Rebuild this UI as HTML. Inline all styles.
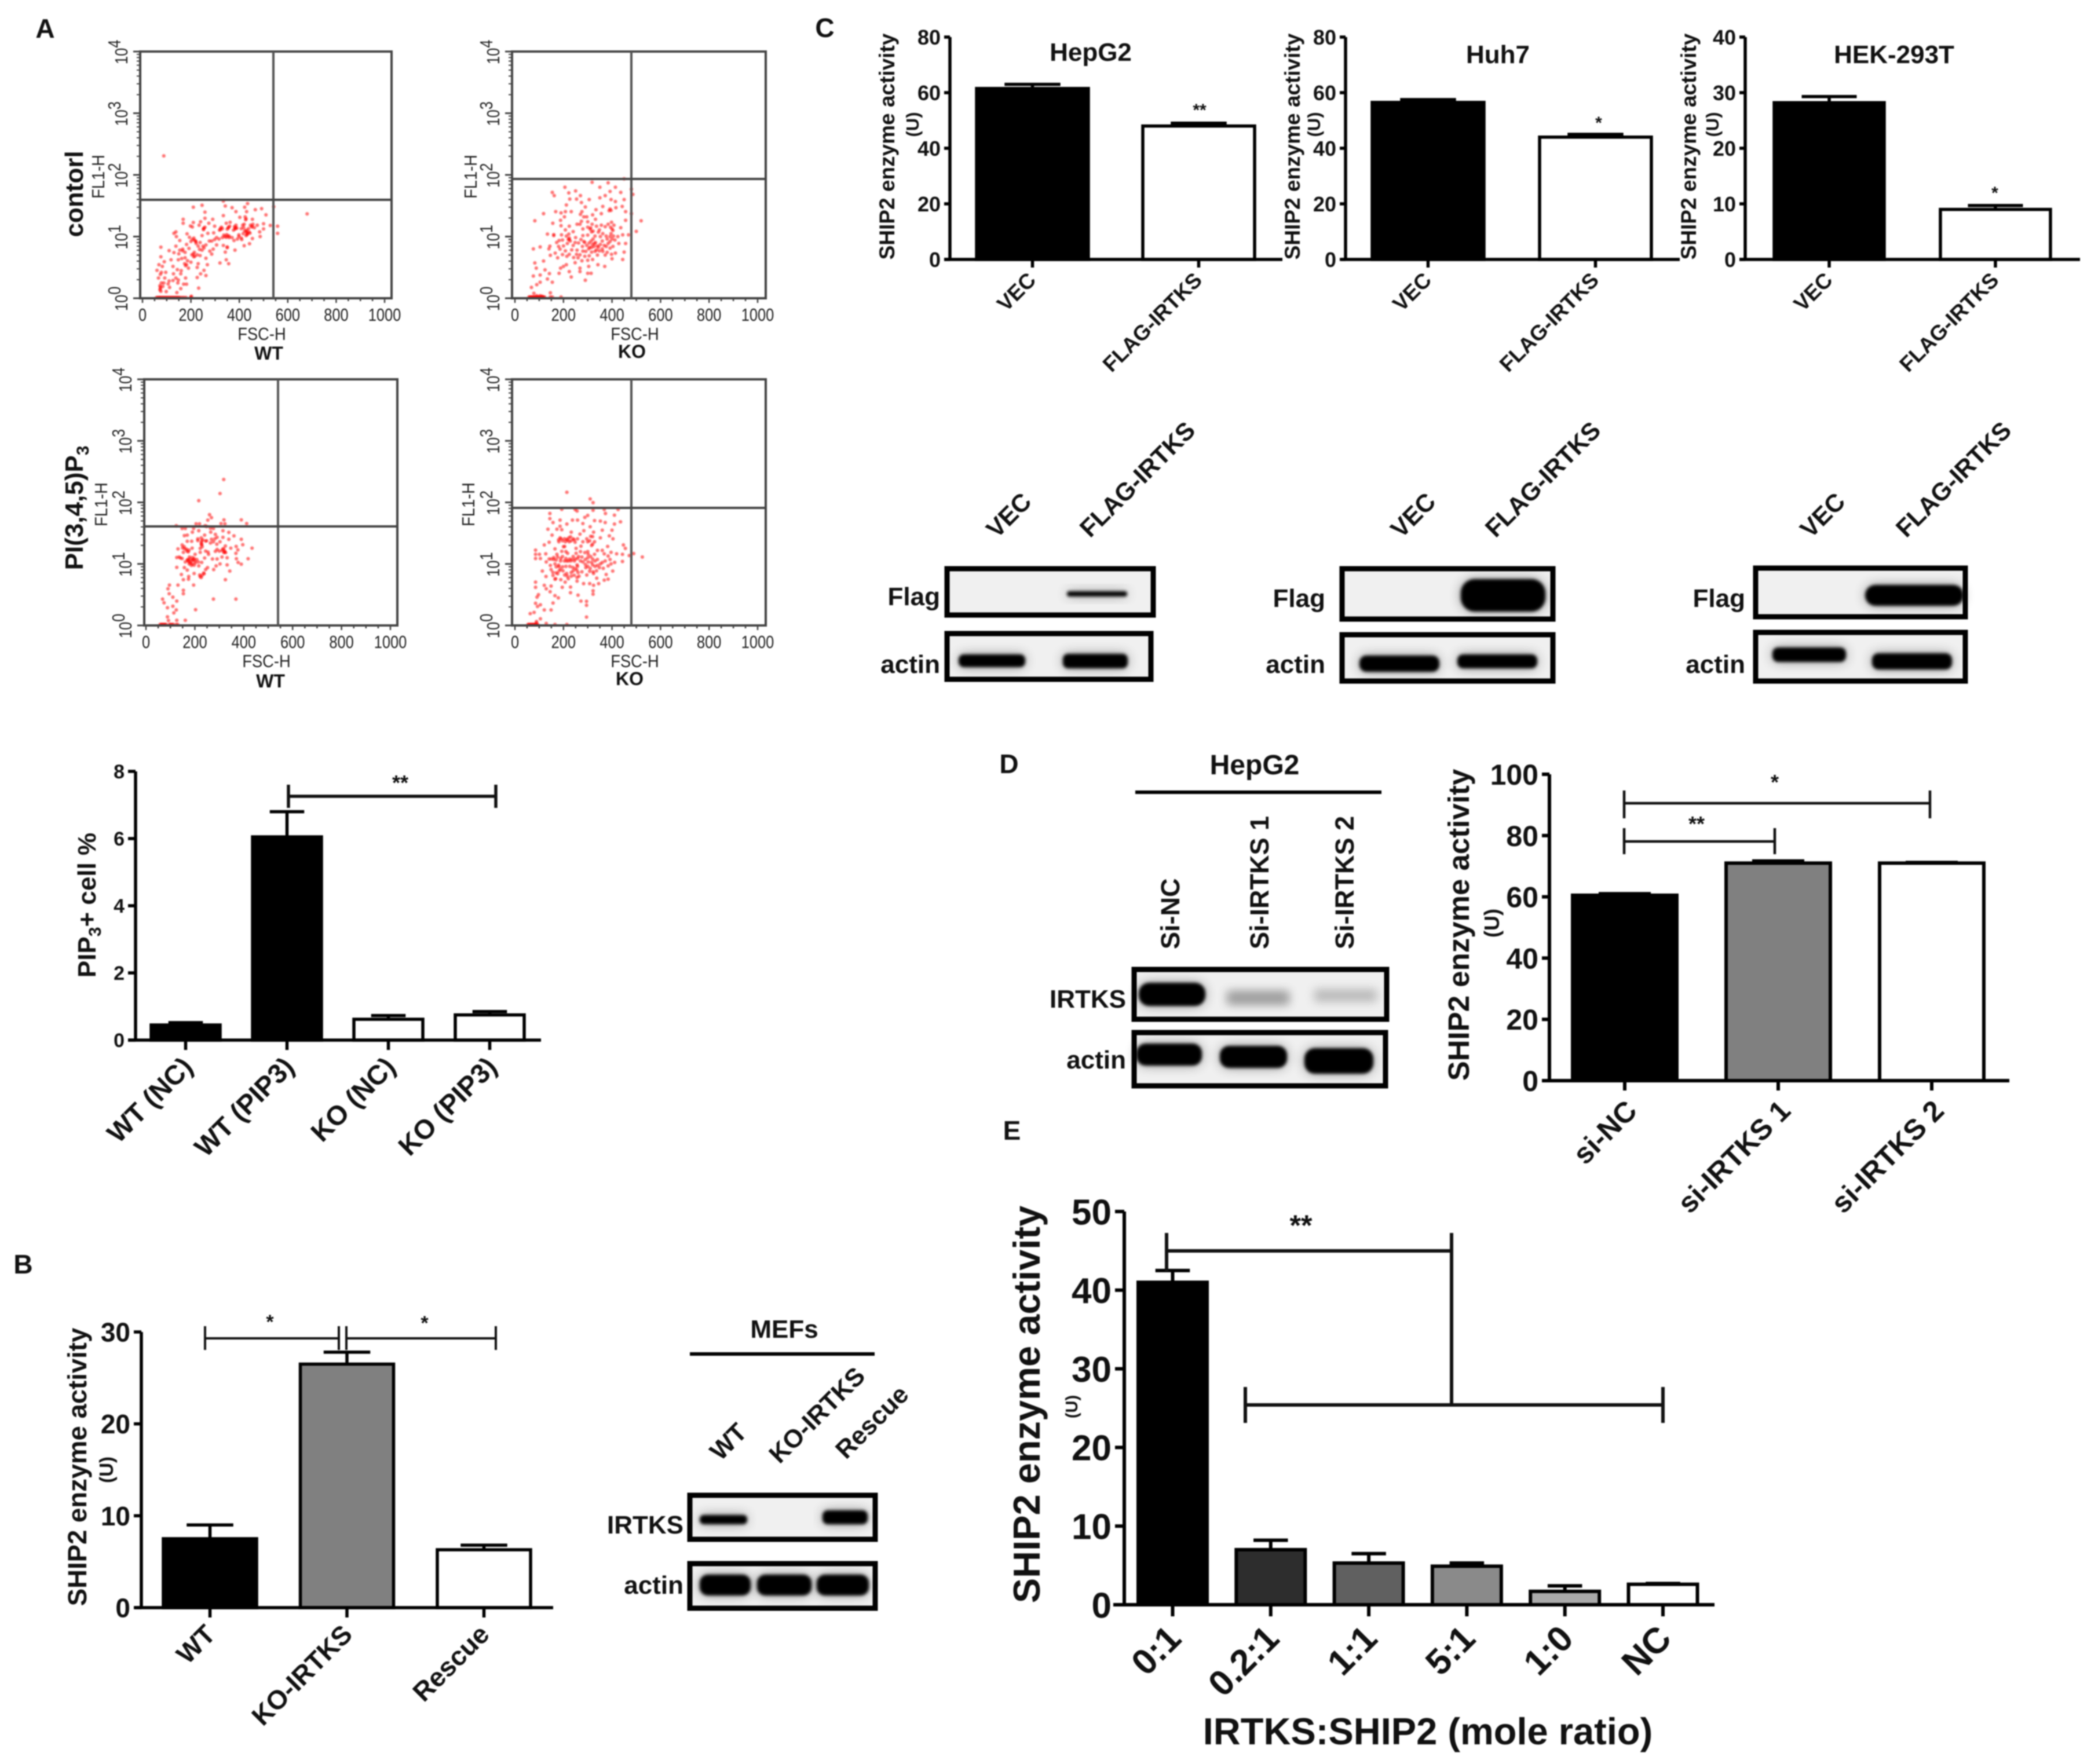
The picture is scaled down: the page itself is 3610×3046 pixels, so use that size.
<!DOCTYPE html>
<html lang="en">
<head>
<meta charset="utf-8">
<title>IRTKS and SHIP2 figure</title>
<style>
html,body{margin:0;padding:0;background:#fff;width:3610px;height:3046px;overflow:hidden}
svg{display:block;filter:blur(1px)}
text{font-family:"Liberation Sans",sans-serif;fill:#111}
.b{font-weight:bold}
.blot{fill:#f0f0f0;stroke:#000;stroke-width:9}
.band{fill:#000;filter:url(#soft)}
.halo{fill:#777;opacity:.45;filter:url(#halo)}
.br{fill:none;stroke:#111}
</style>
</head>
<body>
<svg id="figure" xmlns="http://www.w3.org/2000/svg" width="3610" height="3046" viewBox="0 0 3610 3046">
<defs>
<filter id="soft" x="-20%" y="-150%" width="140%" height="400%">
<feGaussianBlur in="SourceGraphic" stdDeviation="10" result="wide"/>
<feComponentTransfer in="wide" result="wideSoft"><feFuncA type="linear" slope="0.4"/></feComponentTransfer>
<feGaussianBlur in="SourceGraphic" stdDeviation="2.6" result="core"/>
<feMerge><feMergeNode in="wideSoft"/><feMergeNode in="core"/></feMerge>
</filter>
<filter id="halo" x="-30%" y="-150%" width="160%" height="400%"><feGaussianBlur stdDeviation="8"/></filter>
<filter id="dotblur" x="-5%" y="-5%" width="110%" height="110%"><feGaussianBlur stdDeviation="0.9"/></filter>
</defs>
<rect width="3610" height="3046" fill="#fff"/>

<!-- panel letters -->
<g class="b" font-size="46" text-anchor="middle">
<text x="78" y="65">A</text>
<text x="40" y="2199">B</text>
<text x="1424" y="64">C</text>
<text x="1742" y="1335">D</text>
<text x="1747" y="1968">E</text>
</g>

<!-- panel A flow plots -->
<g id="flow-wt-control"></g>
<g id="flow-ko-control"></g>
<g id="flow-wt-pip"></g>
<g id="flow-ko-pip"></g>
<text class="b" font-size="44" text-anchor="middle" transform="translate(143,335) rotate(-90)">contorl</text>
<text class="b" font-size="44" text-anchor="middle" transform="translate(143,877) rotate(-90)">PI(3,4,5)P<tspan font-size="30" dy="10">3</tspan></text>

<!-- bar charts -->
<g id="chart-pip"></g>
<g id="chart-b"></g>
<g id="chart-c1"></g>
<g id="chart-c2"></g>
<g id="chart-c3"></g>
<g id="chart-d"></g>
<g id="chart-e"></g>

<!-- axis titles -->
<text class="b" font-size="44" text-anchor="middle" transform="translate(165,1563) rotate(-90)">PIP<tspan font-size="30" dy="9">3</tspan><tspan dy="-9">+ cell %</tspan></text>
<text class="b" font-size="45.5" text-anchor="middle" transform="translate(149,2533) rotate(-90)">SHIP2 enzyme activity</text>
<text class="b" font-size="33" text-anchor="middle" transform="translate(195,2538) rotate(-90)">(U)</text>
<text class="b" font-size="37" text-anchor="middle" transform="translate(1544,253) rotate(-90)">SHIP2 enzyme activity</text>
<text class="b" font-size="31" text-anchor="middle" transform="translate(1586,215) rotate(-90)">(U)</text>
<text class="b" font-size="37" text-anchor="middle" transform="translate(2244,253) rotate(-90)">SHIP2 enzyme activity</text>
<text class="b" font-size="31" text-anchor="middle" transform="translate(2279,215) rotate(-90)">(U)</text>
<text class="b" font-size="37" text-anchor="middle" transform="translate(2928,253) rotate(-90)">SHIP2 enzyme activity</text>
<text class="b" font-size="31" text-anchor="middle" transform="translate(2967,215) rotate(-90)">(U)</text>
<text class="b" font-size="51" text-anchor="middle" transform="translate(2536,1597) rotate(-90)">SHIP2 enzyme activity</text>
<text class="b" font-size="36" text-anchor="middle" transform="translate(2588,1594) rotate(-90)">(U)</text>
<text class="b" font-size="65" text-anchor="middle" transform="translate(1795,2425) rotate(-90)">SHIP2 enzyme activity</text>
<text class="b" font-size="29" text-anchor="middle" transform="translate(1860,2429) rotate(-90)">(U)</text>
<text class="b" font-size="65" text-anchor="middle" x="2465" y="3012">IRTKS:SHIP2 (mole ratio)</text>

<!-- chart titles -->
<g class="b" text-anchor="middle" font-size="44">
<text x="1883" y="105">HepG2</text>
<text x="2586" y="109">Huh7</text>
<text x="3270" y="109">HEK-293T</text>
</g>

<!-- significance annotations -->
<g class="b" text-anchor="middle">
<text x="691" y="1364" font-size="36">**</text>
<text x="466" y="2294" font-size="34">*</text>
<text x="733" y="2296" font-size="34">*</text>
<text x="2071" y="200" font-size="30">**</text>
<text x="2760" y="222" font-size="30">*</text>
<text x="3444" y="343" font-size="30">*</text>
<text x="3064" y="1363" font-size="36">*</text>
<text x="2929" y="1435" font-size="36">**</text>
<text x="2246" y="2133" font-size="50">**</text>
</g>
<path class="br" stroke-width="5.5" d="M498 1355V1395M498 1375H856M856 1355V1395"/>
<path class="br" stroke-width="4" d="M354 2290V2331M354 2311H585M585 2290V2331"/>
<path class="br" stroke-width="4" d="M598 2290V2331M598 2311H856M856 2290V2331"/>
<path class="br" stroke-width="4.5" d="M2804 1365V1413M2804 1387H3332M3332 1365V1413"/>
<path class="br" stroke-width="4.5" d="M2804 1430V1475M2804 1453H3064M3064 1430V1475"/>
<path class="br" stroke-width="6" d="M2014 2129V2195M2014 2160H2506M2506 2129V2426"/>
<path class="br" stroke-width="6" d="M2150 2395V2457M2150 2426H2871M2871 2395V2457"/>

<!-- panel B blot -->
<g>
<text class="b" font-size="44" text-anchor="middle" x="1354" y="2310">MEFs</text>
<rect x="1191" y="2335" width="319" height="6" fill="#000"/>
<g class="b" font-size="44" text-anchor="middle">
<text transform="translate(1268,2500) rotate(-45)">WT</text>
<text transform="translate(1421,2454) rotate(-45)">KO-IRTKS</text>
<text transform="translate(1516,2466) rotate(-45)">Rescue</text>
</g>
<g class="b" font-size="44" text-anchor="end">
<text x="1180" y="2648">IRTKS</text>
<text x="1180" y="2752">actin</text>
</g>
<rect class="blot" x="1191" y="2582" width="320" height="76"/>
<rect class="blot" x="1191" y="2700" width="320" height="77"/>
<rect class="band" x="1208" y="2616" width="82" height="16" rx="7"/>
<rect class="band" x="1420" y="2608" width="78" height="24" rx="9"/>
<rect class="band" x="1208" y="2719" width="88" height="36" rx="14"/>
<rect class="band" x="1307" y="2719" width="94" height="36" rx="14"/>
<rect class="band" x="1410" y="2719" width="90" height="36" rx="14"/>
</g>

<!-- panel C blots -->
<g>
<g class="b" text-anchor="middle" font-size="43">
<text transform="translate(1752,900) rotate(-45)">VEC</text>
<text transform="translate(1974,838) rotate(-45)">FLAG-IRTKS</text>
</g>
<g class="b" text-anchor="end" font-size="44">
<text x="1623" y="1045">Flag</text>
<text x="1623" y="1162">actin</text>
</g>
<rect class="blot" x="1635" y="982" width="356" height="80"/>
<rect class="blot" x="1635" y="1094" width="352" height="79"/>
<rect class="band" x="1842" y="1021" width="104" height="9" rx="4"/>
<rect class="band" x="1655" y="1130" width="115" height="22" rx="9"/>
<rect class="band" x="1835" y="1129" width="112" height="25" rx="9"/>
</g>
<g>
<g class="b" text-anchor="middle" font-size="43">
<text transform="translate(2450,900) rotate(-45)">VEC</text>
<text transform="translate(2674,838) rotate(-45)">FLAG-IRTKS</text>
</g>
<g class="b" text-anchor="end" font-size="44">
<text x="2288" y="1048">Flag</text>
<text x="2288" y="1162">actin</text>
</g>
<rect class="blot" x="2317" y="982" width="364" height="87"/>
<rect class="blot" x="2317" y="1096" width="364" height="80"/>
<rect class="band" x="2522" y="1000" width="146" height="56" rx="24"/>
<rect class="band" x="2347" y="1132" width="138" height="28" rx="12"/>
<rect class="band" x="2516" y="1130" width="138" height="24" rx="10"/>
</g>
<g>
<g class="b" text-anchor="middle" font-size="43">
<text transform="translate(3157,900) rotate(-45)">VEC</text>
<text transform="translate(3383,838) rotate(-45)">FLAG-IRTKS</text>
</g>
<g class="b" text-anchor="end" font-size="44">
<text x="3013" y="1048">Flag</text>
<text x="3013" y="1162">actin</text>
</g>
<rect class="blot" x="3031" y="981" width="362" height="84"/>
<rect class="blot" x="3031" y="1092" width="362" height="84"/>
<rect class="band" x="3220" y="1010" width="170" height="36" rx="18"/>
<rect class="band" x="3060" y="1118" width="127" height="25" rx="10"/>
<rect class="band" x="3232" y="1128" width="138" height="28" rx="11"/>
</g>

<!-- panel D blot -->
<g>
<text class="b" font-size="48" text-anchor="middle" x="2166" y="1337">HepG2</text>
<rect x="1960" y="1365" width="425" height="6" fill="#000"/>
<g class="b" font-size="45">
<text transform="translate(2036,1639) rotate(-90)">Si-NC</text>
<text transform="translate(2190,1639) rotate(-90)">Si-IRTKS 1</text>
<text transform="translate(2337,1639) rotate(-90)">Si-IRTKS 2</text>
</g>
<g class="b" font-size="44" text-anchor="end">
<text x="1944" y="1740">IRTKS</text>
<text x="1944" y="1845">actin</text>
</g>
<rect class="blot" x="1958" y="1674" width="436" height="86"/>
<rect class="blot" x="1958" y="1783" width="434" height="92"/>
<rect class="band" x="1966" y="1697" width="115" height="40" rx="18"/>
<rect class="halo" x="2119" y="1712" width="106" height="22"/><rect class="halo" x="2119" y="1712" width="106" height="22"/><rect class="halo" x="2269" y="1708" width="108" height="22"/>
<rect class="band" x="1962" y="1802" width="113" height="38" rx="16"/>
<rect class="band" x="2106" y="1806" width="116" height="38" rx="16"/>
<rect class="band" x="2252" y="1810" width="119" height="44" rx="18"/>
</g>

<script>
// ---- chart data ----
const pipCategories = ['WT (NC)', 'WT (PIP3)', 'KO (NC)', 'KO (PIP3)'];
const pipValues = [0.45, 6.05, 0.62, 0.75];
const pipErrorTops = [0.52, 6.8, 0.73, 0.85];
const pipTicks = [0, 2, 4, 6, 8];

const mefCategories = ['WT', 'KO-IRTKS', 'Rescue'];
const mefValues = [7.5, 26.5, 6.3];
const mefErrorTops = [9.0, 27.8, 6.8];
const mefTicks = [0, 10, 20, 30];

const overexprCategories = ['VEC', 'FLAG-IRTKS'];
const hepg2Values = [61.5, 48];
const hepg2ErrorTops = [63, 49];
const huh7Values = [56.5, 44];
const huh7ErrorTops = [57.5, 45];
const hekValues = [28.2, 9];
const hekErrorTops = [29.3, 9.7];
const cTicks80 = [0, 20, 40, 60, 80];
const cTicks40 = [0, 10, 20, 30, 40];

const sirnaCategories = ['si-NC', 'si-IRTKS 1', 'si-IRTKS 2'];
const sirnaValues = [60.5, 71, 71];
const sirnaErrorTops = [61, 71.7, 71.2];
const sirnaTicks = [0, 20, 40, 60, 80, 100];

const ratioCategories = ['0:1', '0.2:1', '1:1', '5:1', '1:0', 'NC'];
const ratioValues = [41, 7, 5.3, 4.9, 1.7, 2.6];
const ratioErrorTops = [42.5, 8.2, 6.5, 5.3, 2.4, 2.7];
const ratioTicks = [0, 10, 20, 30, 40, 50];

const flowXTicks = [0, 200, 400, 600, 800, 1000];
const flowYDecades = [0, 1, 2, 3, 4];

// flow events: [FSC-H, FL1-H channel (0-1000 across 4 decades)]
const wtControlEvents = [[58,3],[62,3],[66,3],[70,3],[72,3],[76,3],[80,3],[84,3],[88,3],[92,3],[96,3],[100,3],[104,3],[108,3],[112,3],[116,3],[120,3],[124,3],[128,3],[132,3],[136,3],[140,3],[144,3],[148,3],[152,3],[158,3],[165,3],[172,3],[180,3],[200,3],[200,5],[202,8],
[74,39],[74,45],[72,51],[78,62],[72,34],[76,28],[66,82],[74,97],[60,113],[78,105],[82,129],[68,136],[90,148],[76,168],[76,207],[98,27],[106,58],[110,70],[96,105],[126,129],[118,156],[128,99],[138,82],[158,99],[146,62],[158,39],[142,23],[178,82],[170,57],[182,57],[190,122],[174,140],[182,136],[162,161],[148,156],[176,164],[130,185],[110,193],[138,211],[154,195],[166,199],[182,218],[154,234],[130,263],[138,269],[140,250],[168,320],[168,304],
[210,369],[246,377],[258,349],[258,324],[290,320],[274,304],[234,296],[198,293],[210,307],[252,282],[298,292],[322,278],[294,265],[270,263],[246,254],[206,289],[184,261],[194,247],[206,238],[220,229],[230,211],[246,195],[250,211],[210,179],[216,170],[238,173],[262,162],[226,125],[230,140],[268,136],[254,113],[240,99],[226,84],[262,92],[232,41],[278,191],[292,199],[286,179],[276,232],[298,238],[306,216],[320,143],[346,156],[356,140],[342,187],[350,208],[334,214],[330,246],[346,247],[358,246],[346,304],[362,308],[354,285],[382,281],[386,296],[334,335],[370,367],[342,374],[334,394],[434,384],[422,369],[430,351],[386,351],[402,328],[466,359],[492,363],[510,338],[454,320],[426,318],[414,296],[452,289],[474,296],[500,302],[500,281],[528,295],[558,292],[558,263],[484,269],[486,250],[434,261],[422,273],[398,257],[378,234],[410,238],[454,242],[442,221],[420,213],[382,195],[542,371],[680,342],[88,577],
[254,284],[322,283],[356,288],[384,283],[384,287],[428,270],[432,258],[440,268],[424,330],[428,322],[340,250],[352,252],[408,244],[220,232],[214,236],[204,176],[212,168],[236,198],[350,205],[240,310],[330,282],[420,300],[452,292],[432,266],
[252,278],[258,288],[318,276],[326,288],[350,280],[360,292],[376,276],[380,290],[390,284],[408,282],[418,286],[430,276],[438,282],[446,296],[456,300],[462,286],[444,264],[428,254],[416,262],[336,256],[348,258],[358,252],[370,246],[392,240],[398,250],[316,240],[306,246],[286,232],[262,216],[254,204],[238,226],[222,222],[212,244],[200,230],[192,202],[166,192],[176,186],[226,176],[214,186],[150,180],[144,116],[160,112],[178,132],[186,152],[200,146],[148,74],[126,72],[112,44],[88,62],[92,82],[84,48]];

const koControlEvents = [[58,5],[61,5],[64,5],[67,5],[70,5],[73,5],[76,5],[79,5],[82,5],[85,5],[88,5],[91,5],[94,5],[97,5],[100,5],[103,5],[106,5],[109,5],[112,5],[115,5],[118,5],[122,5],[146,5],[154,5],[190,5],[78,20],[146,22],[90,10],[104,10],[112,8],
[68,44],[90,55],[104,65],[76,90],[104,94],[134,78],[154,65],[142,100],[124,115],[88,122],[82,143],[118,151],[76,200],[104,208],[82,314],[118,343],[168,351],[154,429],[162,416],[206,450],[222,427],[226,402],[250,435],[254,402],[270,416],[212,378],[274,388],[290,370],[306,400],[318,470],[350,450],[384,468],[414,450],[436,429],[392,433],[372,416],[350,407],[396,400],[450,400],[450,484],[414,392],[480,442],[486,421],[480,343],
[520,314],[500,271],[468,257],[444,257],[456,222],[450,187],[444,157],[416,367],[442,372],[456,351],[456,316],[436,286],[388,355],[362,372],[334,359],[356,343],[320,338],[332,320],[276,351],[232,351],[208,351],[190,346],[188,316],[156,304],[190,294],[224,292],[208,277],[134,260],[160,254],[192,257],[220,238],[250,246],[280,281],[312,285],[316,269],[348,277],[398,308],[400,281],[280,254],[284,230],[328,222],[352,250],[392,250],[424,250],[428,222],[392,230],[392,203],[368,214],[344,207],[316,187],[280,191],[256,195],[240,214],[216,222],[182,234],[144,211],[140,200],[166,183],[186,199],[196,177],[214,170],[146,174],[176,164],[242,165],[260,164],[276,152],[300,154],[320,157],[340,175],[372,175],[400,160],[414,183],[248,144],[212,136],[200,129],[188,122],[182,101],[224,108],[232,86],[268,122],[268,108],[304,129],[300,101],[314,101],[342,136],[370,129],[290,73],
[320,218],[296,214],[332,226],[288,226],[224,238],[310,280],[322,272],[392,362],[396,356],[340,212],[352,218],[304,200],[224,244],[228,232],[308,206],[326,210],[394,288],[404,275],[160,258],[380,240],[360,232],[268,300],[274,312],[256,300],[296,330],[284,330],[300,288],[204,330],
[306,224],[314,232],[322,240],[336,196],[348,192],[360,200],[376,210],[384,222],[404,210],[412,236],[406,252],[376,252],[362,262],[344,268],[330,252],[300,256],[272,238],[262,224],[248,226],[234,196],[224,178],[208,192],[200,212],[196,236],[172,226],[288,170],[306,172],[330,190],[316,206],[278,210],[292,190],[268,176],[254,178],[362,190],[380,186],[398,178],[400,240],[396,262],[408,296],[384,300],[372,290],[356,296],[336,292],[318,300],[300,310],[270,340],[240,270],[222,260],[212,252],[180,210]];

const wtPipEvents = [[318,593],[303,536],[216,507],[260,450],[268,438],[253,428],[319,429],[390,429],[412,414],[307,414],[323,413],[205,413],[219,413],[242,405],[248,402],[124,405],[148,394],[161,394],[195,394],[264,395],[276,394],
[190,379],[216,385],[265,379],[315,385],[339,378],[157,365],[169,367],[240,367],[284,370],[360,364],[291,358],[315,358],[339,350],[390,350],[212,352],[169,342],[187,342],[228,343],[244,343],[264,335],[303,340],[290,330],[396,328],[325,323],[227,328],[148,327],[131,311],[159,311],[189,314],[222,313],[291,309],[347,314],[369,321],[376,307],[434,314],[173,299],[222,297],[284,301],[319,296],[368,293],[153,297],[256,289],[201,289],[126,276],[141,274],[194,268],[169,266],[240,274],[272,270],[291,270],[311,278],[332,275],[370,271],[418,271],[377,256],[390,249],[332,246],[303,250],[287,242],[228,256],[216,242],[197,245],[177,250],[161,258],[126,236],[157,235],[169,225],[252,235],[244,227],[277,227],[343,221],[145,207],[175,199],[197,211],[220,205],[236,213],[226,195],[174,188],[153,186],[325,186],[131,164],[96,164],[195,164],[90,149],[95,129],[153,143],[153,129],[110,115],[126,99],[68,107],[74,92],[276,107],[368,107],[110,78],[88,72],[203,64],[124,63],[114,51],[88,35],[126,21],[161,21],[92,20],
[58,4],[61,4],[64,4],[67,4],[70,4],[73,4],[76,4],[79,4],[82,4],[96,4],[100,4],[104,4],[108,4],[112,4],[124,4],[130,4],[185,262],[197,272],[177,258],[189,250],[192,266],[180,270],[200,262],[172,262],[150,315],[168,302],[326,296],[322,302],[212,345],[228,330],[314,310],
[172,268],[182,254],[190,276],[202,254],[208,268],[214,258],[186,244],[178,278],[148,272],[136,278],[166,310],[176,306],[156,320],[230,320],[226,336],[244,302],[254,298],[248,344],[276,340],[282,352],[268,350],[232,348],[226,356],[312,304],[318,312],[322,298],[300,302],[238,210],[222,198],[230,204]];

const koPipEvents = [[214,541],[310,514],[322,499],[193,472],[248,471],[256,465],[322,468],[368,471],[425,471],[373,455],[144,455],[300,447],[410,448],[144,434],[186,428],[237,428],[258,428],[288,439],[328,426],[352,424],[372,418],[435,421],[157,418],[214,412],[280,414],[410,412],[310,401],[186,403],[136,391],[173,391],[193,389],[284,385],[400,387],[360,387],[324,379],[232,379],[153,367],[186,356],[229,360],[268,371],[320,361],[352,356],[389,364],[404,352],[181,340],[217,346],[244,348],[308,344],[141,338],[121,327],[205,321],[272,322],[316,325],[447,327],[455,313],[382,321],[85,306],[165,311],[193,301],[252,313],[340,305],[360,305],[85,289],[101,289],[127,291],[173,289],[217,293],[252,293],[302,289],[328,289],[368,291],[396,297],[419,291],[443,289],[489,292],[471,284],[525,278],[85,272],[105,272],[141,270],[189,272],[225,270],[248,270],[320,270],[384,282],[129,258],[165,250],[181,239],[213,262],[256,246],[280,258],[320,246],[352,250],[411,256],[443,260],[384,242],[113,221],[149,227],[213,211],[248,231],[292,235],[348,235],[403,221],[128,199],[157,203],[189,186],[165,188],[256,195],[296,205],[324,211],[376,207],[337,192],[368,184],[384,188],[85,176],[256,180],[207,176],[85,155],[121,163],[149,160],[129,149],[195,155],[229,156],[283,170],[308,170],[345,170],[324,163],[145,137],[229,133],[322,141],[322,127],[97,125],[165,121],[179,112],[260,123],[91,115],[272,99],[295,98],[295,82],[157,91],[85,90],[105,84],[93,77],[121,63],[149,63],[79,53],[63,48],[295,34],[105,27],[89,16],[129,8],[165,4],[214,4],
[54,4],[57,4],[60,4],[63,4],[66,4],[69,4],[72,4],[75,4],[78,4],[81,4],[84,4],[87,4],[90,4],[94,4],[88,10],[180,348],[190,352],[214,350],[222,356],[232,344],[240,352],[150,270],[160,268],[170,266],[210,272],[220,262],[235,268],[245,262],[258,272],[270,262],[180,245],[170,238],[188,228],[232,215],[240,222],[258,240],[300,275],[312,280],[330,262],[340,268],[300,240],[310,232],[322,218],[205,205],[216,200],[176,210],[168,190],[300,340],[320,330],[255,225],[260,215],[244,204],
[196,344],[204,352],[208,340],[224,340],[248,338],[258,352],[160,276],[176,278],[196,280],[204,262],[230,262],[240,280],[262,280],[276,278],[290,268],[290,248],[302,258],[316,256],[330,240],[340,244],[360,256],[372,262],[392,268],[396,250],[364,232],[336,222],[308,220],[276,218],[264,200],[232,200],[220,190],[198,222],[182,222],[170,214],[156,216],[146,244],[188,262],[196,238],[210,240],[226,240],[238,236],[270,300],[288,296],[300,300],[210,300],[200,320],[280,340],[296,352],[312,362],[328,340]];

// ---- drawing helpers ----
const NS = 'http://www.w3.org/2000/svg';
function el(parent, tag, attrs, txt) {
  const n = document.createElementNS(NS, tag);
  for (const k in attrs) n.setAttribute(k, attrs[k]);
  if (txt !== undefined) n.textContent = txt;
  parent.appendChild(n);
  return n;
}
function label(node, name) {
  
  
  return node;
}
function slug(s) { return String(s).toLowerCase().replace(/[^a-z0-9]+/g, '-'); }

function drawBars(id, categories, values, errorTops, ticks, colors, g) {
  const root = document.getElementById(id);
  const yScale = v => g.y0 - (v / g.yMax) * (g.y0 - g.yTop);
  const center = i => g.barLeft + g.barStep * i + g.barWidth / 2;
  // bars + error bars
  values.forEach((v, i) => {
    const cx = center(i);
    const err = label(el(root, 'path', {
      d: 'M' + cx + ' ' + yScale(v) + 'V' + yScale(errorTops[i]) + 'M' + (cx - g.barWidth * 0.25) + ' ' + yScale(errorTops[i]) + 'H' + (cx + g.barWidth * 0.25),
      stroke: '#000', 'stroke-width': g.sw, fill: 'none'
    }), 'error-bar-' + slug(categories[i]));
    const bar = label(el(root, 'rect', {
      x: g.barLeft + g.barStep * i, y: yScale(v), width: g.barWidth, height: g.y0 - yScale(v),
      fill: colors[i], stroke: '#000', 'stroke-width': g.sw
    }), 'bar-' + slug(categories[i]));
  });
  // axes
  label(el(root, 'path', { d: 'M' + g.axisX + ' ' + g.yTop + 'V' + g.y0, stroke: '#000', 'stroke-width': g.sw, fill: 'none' }), 'y-axis');
  label(el(root, 'path', { d: 'M' + g.xStart + ' ' + g.y0 + 'H' + g.xEnd, stroke: '#000', 'stroke-width': g.sw, fill: 'none' }), 'x-axis');
  // y ticks
  ticks.forEach(t => {
    const y = yScale(t);
    label(el(root, 'path', { d: 'M' + (g.axisX - g.tick) + ' ' + y + 'H' + g.axisX, stroke: '#000', 'stroke-width': g.sw, fill: 'none' }), 'y-tick-' + t);
    label(el(root, 'text', { x: g.axisX - g.tick - 6, y: y + g.yFont * 0.36, 'text-anchor': 'end', 'font-size': g.yFont, 'font-weight': 'bold' }, t), 'y-tick-label-' + t);
  });
  // x ticks
  categories.forEach((c, i) => {
    const cx = center(i);
    label(el(root, 'path', { d: 'M' + cx + ' ' + g.y0 + 'V' + (g.y0 + g.tick + 4), stroke: '#000', 'stroke-width': g.sw, fill: 'none' }), 'x-tick-' + slug(c));
    const px = cx + g.lx, py = g.y0 + g.ly;
    label(el(root, 'text', { 'text-anchor': 'end', 'font-size': g.xFont, 'font-weight': 'bold', transform: 'translate(' + px + ',' + py + ') rotate(-45)' }, c), 'x-tick-label-' + slug(c));
  });
}

function drawFlow(id, events, g, groupName) {
  const root = document.getElementById(id);
  const xScale = f => g.x0 + f * g.xs;
  const decade = (g.bottom - g.top) / 4;
  const yLog = d => g.bottom - d * decade;
  const yCh = c => g.bottom - c / 1000 * (g.bottom - g.top);
  const stroke = '#444';
  const dots = label(el(root, 'g', { filter: 'url(#dotblur)' }), 'event-dots');
  events.forEach(p => {
    const dot = label(el(dots, 'circle', { cx: xScale(p[0]), cy: yCh(p[1]), r: 3.1, fill: '#ff0000', 'fill-opacity': 0.55 }), 'event-dot');
  });
  label(el(root, 'rect', { x: g.left, y: g.top, width: g.right - g.left, height: g.bottom - g.top, fill: 'none', stroke: stroke, 'stroke-width': 4 }), 'plot-frame');
  label(el(root, 'path', { d: 'M' + g.vline + ' ' + g.top + 'V' + g.bottom, stroke: '#555', 'stroke-width': 4 }), 'quadrant-vertical');
  label(el(root, 'path', { d: 'M' + g.left + ' ' + g.hline + 'H' + g.right, stroke: '#444', 'stroke-width': 4 }), 'quadrant-horizontal');
  // y axis: log ticks
  flowYDecades.forEach(k => {
    const y = yLog(k);
    label(el(root, 'path', { d: 'M' + (g.left - 12) + ' ' + y + 'H' + g.left, stroke: stroke, 'stroke-width': 3 }), 'y-major-tick');
    if (k < 4) for (let m = 2; m < 10; m++) {
      const my = yLog(k + Math.log10(m));
      label(el(root, 'path', { d: 'M' + (g.left - 6) + ' ' + my + 'H' + g.left, stroke: stroke, 'stroke-width': 2 }), 'y-minor-tick');
    }
    const t = label(el(root, 'text', { 'font-size': 31, transform: 'translate(' + (g.left - 22) + ',' + (y + 22) + ') rotate(-90) scale(.82,1)' }), 'y-tick-label-' + k);
    t.style.fill = '#222';
    t.textContent = '10';
    const sup = el(t, 'tspan', { dy: -12 }, k);
  });
  // x axis
  for (let f = 0; f <= 1000; f += 50) {
    const x = xScale(f);
    label(el(root, 'path', { d: 'M' + x + ' ' + g.bottom + 'V' + (g.bottom + (f % 200 === 0 ? 8 : 5)), stroke: stroke, 'stroke-width': 2.5 }), 'x-tick');
  }
  flowXTicks.forEach(f => {
    const t = label(el(root, 'text', { 'font-size': 31, 'text-anchor': 'middle', transform: 'translate(' + xScale(f) + ',' + (g.bottom + 39) + ') scale(.82,1)' }, f), 'x-tick-label-' + f);
    t.style.fill = '#222';
  });
  const xt = label(el(root, 'text', { 'font-size': 31, 'text-anchor': 'middle', transform: 'translate(' + g.fscX + ',' + (g.bottom + 72) + ') scale(.88,1)' }, 'FSC-H'), 'x-axis-title');
  xt.style.fill = '#222';
  const yt = label(el(root, 'text', { 'font-size': 31, 'text-anchor': 'middle', transform: 'translate(' + g.flX + ',' + g.flY + ') rotate(-90) scale(.88,1)' }, 'FL1-H'), 'y-axis-title');
  yt.style.fill = '#222';
  label(el(root, 'text', { 'font-size': 32, 'font-weight': 'bold', 'text-anchor': 'middle', x: g.nameX, y: g.nameY }, groupName), 'genotype-label');
}

drawFlow('flow-wt-control', wtControlEvents, { left: 242, right: 676, top: 89, bottom: 515, x0: 246, xs: .418, vline: 472, hline: 345, fscX: 452, flX: 180, flY: 305, nameX: 464, nameY: 621 }, 'WT');
drawFlow('flow-ko-control', koControlEvents, { left: 884, right: 1322, top: 89, bottom: 515, x0: 889, xs: .419, vline: 1090, hline: 309, fscX: 1096, flX: 823, flY: 305, nameX: 1091, nameY: 618 }, 'KO');
drawFlow('flow-wt-pip', wtPipEvents, { left: 249, right: 686, top: 655, bottom: 1080, x0: 252, xs: .422, vline: 480, hline: 909, fscX: 460, flX: 185, flY: 871, nameX: 467, nameY: 1187 }, 'WT');
drawFlow('flow-ko-pip', koPipEvents, { left: 884, right: 1322, top: 655, bottom: 1080, x0: 889, xs: .419, vline: 1090, hline: 877, fscX: 1096, flX: 819, flY: 871, nameX: 1087, nameY: 1183 }, 'KO');

drawBars('chart-pip', pipCategories, pipValues, pipErrorTops, pipTicks, ['#000', '#000', '#fff', '#fff'],
  { axisX: 234, y0: 1796, yTop: 1332, yMax: 8, xStart: 221, xEnd: 934, barLeft: 261, barWidth: 119, barStep: 175, sw: 5.5, tick: 13, yFont: 34, xFont: 47, lx: 15, ly: 49 });
drawBars('chart-b', mefCategories, mefValues, mefErrorTops, mefTicks, ['#000', '#808080', '#fff'],
  { axisX: 244, y0: 2776, yTop: 2300, yMax: 30, xStart: 233, xEnd: 955, barLeft: 282, barWidth: 161, barStep: 236.5, sw: 5.5, tick: 13, yFont: 46, xFont: 46, lx: 12, ly: 49 });
drawBars('chart-c1', overexprCategories, hepg2Values, hepg2ErrorTops, cTicks80, ['#000', '#fff'],
  { axisX: 1640, y0: 448, yTop: 64, yMax: 80, xStart: 1630, xEnd: 2214, barLeft: 1686, barWidth: 193, barStep: 287, sw: 5.5, tick: 10, yFont: 36, xFont: 37, lx: 8, ly: 38 });
drawBars('chart-c2', overexprCategories, huh7Values, huh7ErrorTops, cTicks80, ['#000', '#fff'],
  { axisX: 2323, y0: 448, yTop: 64, yMax: 80, xStart: 2316, xEnd: 2900, barLeft: 2369, barWidth: 193, barStep: 289, sw: 5.5, tick: 10, yFont: 36, xFont: 37, lx: 8, ly: 38 });
drawBars('chart-c3', overexprCategories, hekValues, hekErrorTops, cTicks40, ['#000', '#fff'],
  { axisX: 3013, y0: 448, yTop: 64, yMax: 40, xStart: 3003, xEnd: 3591, barLeft: 3063, barWidth: 190, barStep: 287, sw: 5.5, tick: 10, yFont: 36, xFont: 37, lx: 8, ly: 38 });
drawBars('chart-d', sirnaCategories, sirnaValues, sirnaErrorTops, sirnaTicks, ['#000', '#808080', '#fff'],
  { axisX: 2675, y0: 1866, yTop: 1337, yMax: 100, xStart: 2662, xEnd: 3469, barLeft: 2715, barWidth: 180, barStep: 265, sw: 6, tick: 13, yFont: 50, xFont: 50, lx: 24, ly: 55 });
drawBars('chart-e', ratioCategories, ratioValues, ratioErrorTops, ratioTicks, ['#000', '#2d2d2d', '#606060', '#8a8a8a', '#aaaaaa', '#fff'],
  { axisX: 1941, y0: 2771, yTop: 2092, yMax: 50, xStart: 1922, xEnd: 2960, barLeft: 1965, barWidth: 119, barStep: 169.3, sw: 6, tick: 16, yFont: 62, xFont: 62, lx: 18, ly: 62 });
</script>
</svg>
</body>
</html>
